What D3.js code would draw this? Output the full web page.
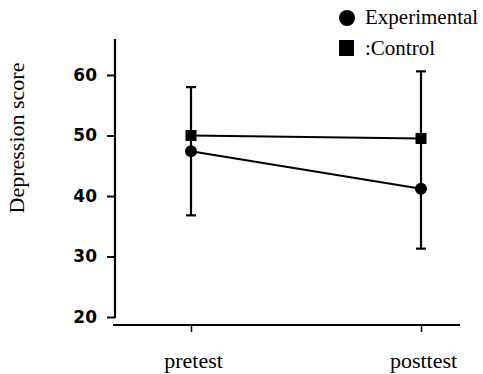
<!DOCTYPE html>
<html>
<head>
<meta charset="utf-8">
<title>Depression score</title>
<style>
    body { margin: 0; background: #fff; }
    .serif { font-family: "Liberation Serif", "Times New Roman", serif; }
    .tick text { font-family: "DejaVu Sans", sans-serif; font-weight: bold; }
</style>
</head>
<body>
<div id="chart"></div>
<script src="https://d3js.org/d3.v7.min.js"></script>
<script>
// categories on the x axis
var phases = ["pretest", "posttest"];
// series means
var experimental = [47.4, 41.2];
var control = [50, 49.5];
// whisker ends drawn at each phase
var errLow = [36.8, 31.3];
var errHigh = [58, 60.6];
var yTicks = [20, 30, 40, 50, 60];

var width = 483, height = 374;

var svg = d3.select("#chart").append("svg")
    .attr("width", width)
    .attr("height", height);

var x = d3.scalePoint()
    .domain(phases)
    .range([191, 421]);

var y = d3.scaleLinear()
    .domain([20, 60])
    .range([317, 75]);

// y axis
var yAxis = svg.append("g")
    .attr("transform", "translate(115,0)")
    .call(d3.axisLeft(y).tickValues(yTicks).tickSize(8).tickPadding(10));
yAxis.select(".domain").remove();
yAxis.selectAll("line").attr("stroke", "#000").attr("stroke-width", 2);
yAxis.selectAll("text").style("font-size", "17px").attr("fill", "#000");
svg.append("line")
    .attr("x1", 115).attr("x2", 115)
    .attr("y1", 39).attr("y2", y(20) + 1)
    .attr("stroke", "#000").attr("stroke-width", 2.2);

// x axis
var xAxis = svg.append("g")
    .attr("transform", "translate(0,325)")
    .call(d3.axisBottom(x).tickSize(7).tickPadding(20));
xAxis.select(".domain").remove();
xAxis.selectAll("line").attr("stroke", "#000").attr("stroke-width", 1.5);
xAxis.selectAll("text")
    .style("font-family", "'Liberation Serif', serif")
    .style("font-weight", "normal")
    .style("font-size", "22px")
    .attr("fill", "#000")
    .attr("dx", 2);
svg.append("line")
    .attr("x1", 113).attr("x2", 460)
    .attr("y1", 325).attr("y2", 325)
    .attr("stroke", "#000").attr("stroke-width", 2);

// y label
svg.append("text")
    .attr("class", "serif")
    .attr("transform", "translate(24,138) rotate(-90)")
    .attr("text-anchor", "middle")
    .style("font-size", "22px")
    .text("Depression score");

// error bars
phases.forEach(function (p, i) {
    var g = svg.append("g").attr("stroke", "#000").attr("stroke-width", 2.2);
    g.append("line")
        .attr("x1", x(p)).attr("x2", x(p))
        .attr("y1", y(errLow[i])).attr("y2", y(errHigh[i]));
    [errLow[i], errHigh[i]].forEach(function (v) {
        g.append("line")
            .attr("x1", x(p) - 5).attr("x2", x(p) + 5)
            .attr("y1", y(v)).attr("y2", y(v));
    });
});

var line = d3.line()
    .x(function (d, i) { return x(phases[i]); })
    .y(function (d) { return y(d); });

// control series
svg.append("path")
    .datum(control)
    .attr("d", line)
    .attr("fill", "none")
    .attr("stroke", "#000")
    .attr("stroke-width", 2.2);
svg.selectAll(".sq")
    .data(control)
    .enter().append("rect")
    .attr("x", function (d, i) { return x(phases[i]) - 5.5; })
    .attr("y", function (d) { return y(d) - 5.5; })
    .attr("width", 11).attr("height", 11)
    .attr("fill", "#000");

// experimental series
svg.append("path")
    .datum(experimental)
    .attr("d", line)
    .attr("fill", "none")
    .attr("stroke", "#000")
    .attr("stroke-width", 2.2);
svg.selectAll(".dot")
    .data(experimental)
    .enter().append("circle")
    .attr("cx", function (d, i) { return x(phases[i]); })
    .attr("cy", function (d) { return y(d); })
    .attr("r", 6)
    .attr("fill", "#000");

// legend
var legend = svg.append("g");
legend.append("circle")
    .attr("cx", 347).attr("cy", 18).attr("r", 8)
    .attr("fill", "#000");
legend.append("text")
    .attr("class", "serif")
    .attr("x", 365).attr("y", 24)
    .style("font-size", "21px")
    .text("Experimental");
legend.append("rect")
    .attr("x", 339).attr("y", 40).attr("width", 15).attr("height", 16)
    .attr("fill", "#000");
legend.append("text")
    .attr("class", "serif")
    .attr("x", 365).attr("y", 55)
    .style("font-size", "21px")
    .text(":Control");
</script>
</body>
</html>
